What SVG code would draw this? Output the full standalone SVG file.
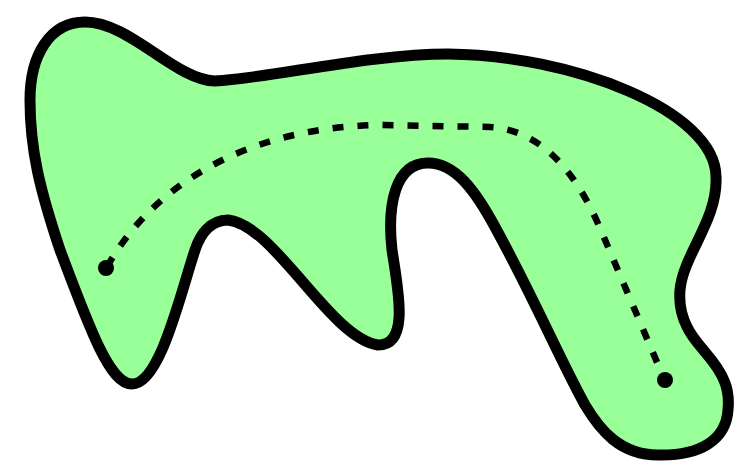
<svg xmlns="http://www.w3.org/2000/svg" width="738" height="467" viewBox="0 0 738 467">
<style>
.shape{fill:#99ff99;stroke:#000;stroke-width:11;stroke-linejoin:round}
.route{fill:none;stroke:#000;stroke-width:6.5;stroke-dasharray:11 14}
.dot{fill:#000}
</style>
<rect width="738" height="467" fill="#fff"/>
<g id="region">
<path class="shape" d="M85,22 C130,22 175,80 215,81 C270,78 370,54 448,54 C570,55 716,110 716,177 C718,220 683,255 680,290 C677,325 700,345 705,352 C725,375 730,390 728,410 C726,440 700,456 658,455 C620,455 600,430 585,405 C560,360 535,300 495,227 C475,190 455,163 428,163 C395,163 387,205 392,250 C398,290 410,345 378,345 C330,338 275,225 228,220 C210,220 200,235 195,250 C180,295 160,384 132,384 C110,384 90,330 60,250 C40,190 30,150 30,100 C30,55 50,22 85,22 Z"/>
</g>
<g id="connectors">
<path class="route" d="M107,267 C150,190 240,128 378,125 L490,127 C540,130 575,170 600,228 L665,381"/>
</g>
<g id="endpoints">
<circle class="dot" cx="106" cy="268" r="8"/>
<circle class="dot" cx="665" cy="380" r="8"/>
</g>
</svg>
